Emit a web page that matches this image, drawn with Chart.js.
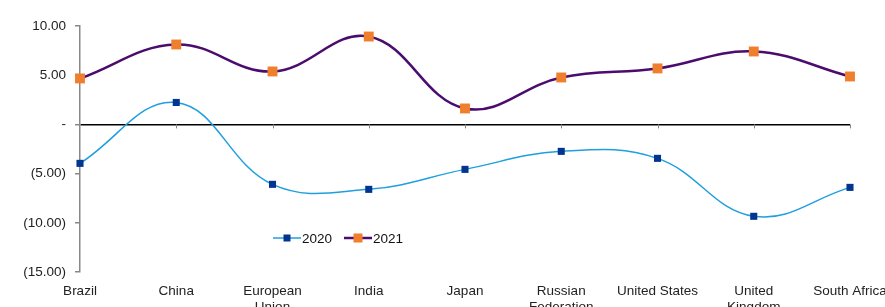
<!DOCTYPE html>
<html>
<head>
<meta charset="utf-8">
<script src="https://cdn.jsdelivr.net/npm/chart.js@4.4.1/dist/chart.umd.min.js"></script>
<style>
  html, body { margin: 0; padding: 0; background: #fff; overflow: hidden; }
  #wrap { position: relative; width: 885px; height: 307px; }
</style>
</head>
<body>
<div id="wrap"><canvas id="myChart"></canvas></div>
<script>
// categories and series
const countries = ['Brazil', 'China', ['European', 'Union'], 'India', 'Japan',
    ['Russian', 'Federation'], 'United States', ['United', 'Kingdom'], 'South Africa'];
const values2020 = [-3.96, 2.23, -6.09, -6.60, -4.57, -2.74, -3.45, -9.34, -6.40];
const values2021 = [4.67, 8.12, 5.38, 8.93, 1.62, 4.77, 5.69, 7.41, 4.87];
const seriesNames = ['2020', '2021'];

const col2020 = { line: '#1f9fe0', mark: '#003591' };
const col2021 = { line: '#4b0c6e', mark: '#f07f2d' };
const fontFam = '"Liberation Sans", Arial, sans-serif';

function fmtTick(v) {
    if (v === 0) return '-';
    if (v < 0) return '(' + Math.abs(v).toFixed(2) + ')';
    return v.toFixed(2);
}

// zero line tick marks + legend placed inside the plot like the original
const extras = {
    id: 'extras',
    afterDatasetsDraw(chart) {
        const ctx = chart.ctx;
        const x = chart.scales.x, y = chart.scales.y;
        const y0 = y.getPixelForValue(0);
        ctx.save();
        ctx.strokeStyle = '#888';
        ctx.lineWidth = 1;
        for (let i = 1; i < countries.length; i++) {
            const px = Math.round(x.getPixelForValue(i)) + 0.5;
            ctx.beginPath();
            ctx.moveTo(px, y0);
            ctx.lineTo(px, y0 + 4);
            ctx.stroke();
        }
        ctx.restore();
    },
    afterDraw(chart) {
        const ctx = chart.ctx;
        const items = [
            { name: seriesNames[0], c: col2020, lw: 1.5, s: 7, x: 273 },
            { name: seriesNames[1], c: col2021, lw: 2.5, s: 9, x: 344 }
        ];
        const ly = 238;
        ctx.save();
        ctx.font = '13.5px ' + fontFam;
        ctx.textBaseline = 'middle';
        items.forEach(it => {
            ctx.strokeStyle = it.c.line;
            ctx.lineWidth = it.lw;
            ctx.beginPath();
            ctx.moveTo(it.x, ly);
            ctx.lineTo(it.x + 28, ly);
            ctx.stroke();
            ctx.fillStyle = it.c.mark;
            ctx.fillRect(it.x + 14 - it.s / 2, ly - it.s / 2, it.s, it.s);
            ctx.fillStyle = '#111';
            ctx.fillText(it.name, it.x + 29, ly + 1);
        });
        ctx.restore();
    }
};

const config = {
    type: 'line',
    data: {
        labels: countries,
        datasets: [{
            label: seriesNames[0],
            data: values2020,
            borderColor: col2020.line,
            borderWidth: 1.5,
            backgroundColor: col2020.mark,
            pointStyle: 'rect',
            pointRadius: 5,
            pointBorderWidth: 0,
            pointBackgroundColor: col2020.mark,
            tension: 0.4,
            clip: false
        }, {
            label: seriesNames[1],
            data: values2021,
            borderColor: col2021.line,
            borderWidth: 2.5,
            backgroundColor: col2021.mark,
            pointStyle: 'rect',
            pointRadius: 7,
            pointBorderWidth: 0,
            pointBackgroundColor: col2021.mark,
            tension: 0.4,
            clip: false
        }]
    },
    options: {
        responsive: true, maintainAspectRatio: false,
        animation: false,
        layout: { padding: { top: 26, right: 35, left: 0, bottom: 0 } },
        plugins: {
            legend: { display: false },
            tooltip: { enabled: false }
        },
        scales: {
            x: {
                offset: false,
                grid: { display: false },
                border: { display: false },
                ticks: {
                    autoSkip: false, maxRotation: 0, minRotation: 0,
                    padding: 4,
                    color: '#222',
                    font: { family: fontFam, size: 13.5, lineHeight: 1.15 }
                },
                afterFit: function (s) { s.paddingLeft = 0; s.paddingRight = 0; s.height = 35; }
            },
            y: {
                min: -15, max: 10,
                ticks: {
                    stepSize: 5,
                    padding: 9,
                    color: '#222',
                    font: { family: fontFam, size: 13.5 },
                    callback: function (v) { return fmtTick(v); }
                },
                grid: {
                    color: function (c) { return c.tick && c.tick.value === 0 ? '#000' : 'rgba(0,0,0,0)'; },
                    lineWidth: 1.5,
                    tickColor: '#888',
                    tickLength: 5
                },
                border: { color: '#888', width: 1.5 },
                afterFit: function (s) { s.width = 80; }
            }
        }
    },
    plugins: [extras]
};

var myChart = new Chart(document.getElementById('myChart'), config);
</script>
</body>
</html>
